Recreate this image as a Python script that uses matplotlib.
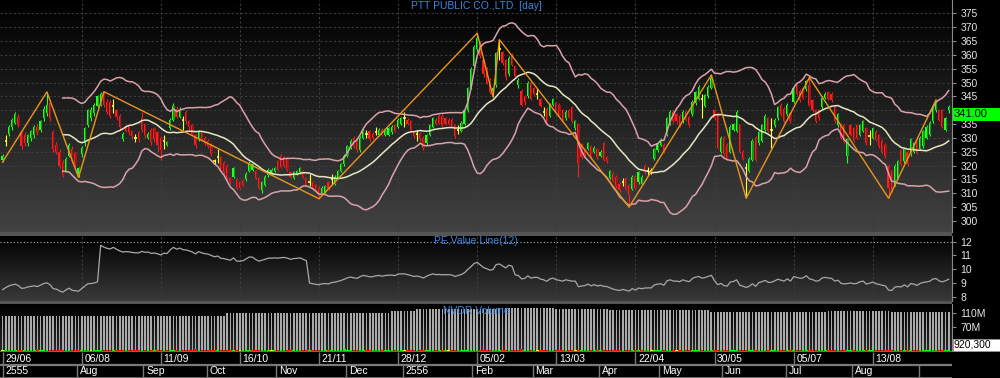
import numpy as np
import pandas as pd
import matplotlib
matplotlib.use("Agg")
import matplotlib.pyplot as plt
from matplotlib.colors import LinearSegmentedColormap
from matplotlib.patches import Rectangle

plt.rcParams['font.family'] = ['Liberation Sans', 'DejaVu Sans']

# daily OHLC, 29/06/2555 .. mid Sep 2556 (one value per trading day)
opens = [322, 329, 331.5, 334, 335.5, 337.5, 332, 331, 328, 330,
         331, 334, 333, 337, 339, 342.5, 332, 327.5, 325, 321,
         318, 323.5, 326, 324.5, 317, 324, 328, 334.5, 337, 339,
         341.5, 342, 346, 343, 343, 341.5, 340, 338, 329.5, 334,
         334.5, 332.5, 330, 332, 337, 335, 330, 333, 333.5, 332,
         330, 329, 327.5, 333.5, 336.5, 340.5, 337.5, 336.5, 339.5, 336,
         334.5, 331, 329.5, 332, 330, 329, 327.5, 321.5, 323, 323,
         321, 320, 315.5, 316, 315, 314, 314.5, 315, 318, 318.5,
         318, 315.5, 311, 313, 316.5, 317, 318, 321.5, 323.5, 323,
         322.5, 317.5, 315.5, 317, 317.5, 318, 315.5, 314, 314, 313,
         311.5, 310, 310.5, 314, 315, 313.5, 315.5, 318, 320.5, 323.5,
         326.5, 330, 329, 325.5, 330, 331.5, 332.5, 331.5, 332.3, 331,
         333, 331, 331, 332, 334.5, 334, 335, 337, 336.5, 336,
         332, 331.5, 331.5, 330, 328, 331, 334, 336.5, 338, 338,
         337, 336.5, 336.5, 334.5, 333, 332.5, 335, 340, 348, 356,
         362, 364, 358, 355, 351, 347, 349, 362, 361, 358,
         353, 360, 356, 349, 347, 345, 345, 350, 348, 346,
         344, 339.5, 340.5, 338, 342, 342.5, 342, 340, 337, 340,
         341, 333.5, 335, 327.5, 326, 326, 327, 325, 326, 323.5,
         328, 323, 315.5, 317, 316, 313.5, 314, 315.5, 313, 311.5,
         316, 314, 313.5, 320, 318, 318, 322.5, 325.5, 327.5, 327.5,
         331, 335, 339.5, 338.5, 338, 336, 339.5, 337.5, 338.5, 342.5,
         344, 344, 341.5, 345, 348, 340, 339, 325, 330, 327.5,
         325, 333, 332.5, 334.5, 325, 319, 318, 322, 330, 328,
         329, 333, 337, 333, 334.5, 337, 342, 340.5, 338.5, 339,
         343, 349, 347, 348, 347.5, 349, 343.5, 340, 340, 341,
         344.5, 346.5, 346, 341, 334.5, 335, 334.5, 323.5, 334.5, 333.5,
         334.5, 331, 332.5, 333.5, 330.5, 330, 332.3, 331, 329, 327.5,
         320, 318, 313, 315.5, 325.5, 321.5, 325, 324, 325, 329.5,
         326, 327, 330, 331, 336, 340, 340, 340, 333, 340]
highs = [324, 331, 334.5, 337, 339.5, 338.5, 333, 332, 331.5, 333,
         334.5, 335, 336.5, 341.5, 346.6, 344, 333, 328.5, 326, 322,
         323, 328, 327, 325, 319.5, 327, 334, 340.5, 341, 342.5,
         345.5, 346.5, 346.7, 344, 343.5, 344, 340.5, 338.5, 332, 334.5,
         335, 333, 331.5, 332.5, 339.5, 335.5, 332, 333.5, 334, 332.5,
         330.5, 331, 329, 337, 342.5, 341.5, 341, 338, 340, 336.5,
         335, 331.5, 333, 332.5, 330.5, 329.5, 328, 322.5, 326, 323.5,
         321.5, 320.5, 316, 319.5, 315.5, 314.5, 315, 317.5, 321.5, 321,
         318.5, 316, 314.5, 316.5, 319, 319, 319.5, 322, 324, 323.5,
         323, 318, 318, 318.5, 319.5, 318.5, 316, 317, 314.5, 313.5,
         312.5, 312.5, 313, 314.5, 317, 316.5, 318.5, 321, 324, 327.5,
         329.5, 330.5, 329.5, 330.5, 333.5, 333, 333, 332, 334, 333.5,
         333.5, 333.5, 334, 334.5, 335, 337, 337.5, 339.5, 337, 336.5,
         332.5, 333, 332, 330.5, 331.5, 335, 337.5, 337, 338.5, 338.5,
         337.5, 337, 337, 335, 334.5, 336, 340.5, 348.5, 355.5, 363.5,
         367.8, 365, 358.5, 355.5, 351.5, 348.5, 361, 365.5, 361.5, 358.5,
         359.5, 360.5, 356.5, 351.5, 347.5, 345.5, 350.5, 350.5, 348.5, 348,
         344.5, 341, 341, 342.5, 344.5, 343, 342.5, 340.5, 340, 340.5,
         341.5, 336.5, 335.5, 328, 326.5, 328.5, 327.5, 327, 326.5, 325.5,
         328.5, 323.5, 318.5, 317.5, 316.5, 314, 315.5, 316, 313.5, 316.5,
         316.5, 318, 316.5, 320.5, 319.5, 319, 326.5, 328.5, 330, 328,
         337.5, 340, 340, 339, 338.5, 340, 340, 338, 343.5, 347,
         349, 346, 346, 349, 352.7, 340.5, 339.5, 330.5, 330.5, 328,
         334.5, 335.5, 340, 335, 325.5, 321, 323, 329.5, 330.5, 332.5,
         335, 338.5, 337.5, 337, 337, 341.5, 342.5, 341, 342.5, 339.5,
         348.5, 349.5, 347.5, 348.5, 351, 351.8, 344, 340.5, 340.5, 345,
         346.5, 347, 346.5, 341.5, 339, 335.5, 335, 330, 335, 334,
         335, 335, 336.5, 334, 333, 334, 332.8, 331.5, 329.5, 328,
         320.5, 318.5, 320.5, 322, 326, 326.5, 325.5, 330, 328.5, 330,
         330.5, 333, 334.5, 336, 342, 343.7, 340.5, 340.5, 337.5, 342]
lows = [321.3, 327, 330.5, 333, 335, 334, 326, 327, 327, 329,
        330, 331, 332, 336, 338, 336, 325, 324, 319, 315.8,
        317.5, 323, 321, 319.5, 315.7, 323, 327, 334, 336, 338,
        341, 341.5, 341, 338.5, 337, 339, 336.5, 333, 329, 332,
        331, 329.5, 328.5, 328.5, 332, 330, 329.5, 327.5, 328.5, 325,
        322, 326, 327, 333, 336, 337, 337, 333, 335, 333,
        331, 326.5, 329, 329, 327.5, 326.5, 323.5, 320.5, 321, 317.5,
        317, 315, 313.5, 315.5, 311.5, 311.5, 312.5, 314.5, 317.5, 318,
        315, 311.5, 310, 312.5, 316, 316.5, 317.5, 318, 319, 319.5,
        318, 315.5, 315, 316.5, 317, 315.5, 312.5, 312.5, 311.5, 310,
        308, 309.5, 310, 311, 313, 313, 315, 317.5, 320, 323,
        326, 326.5, 325, 325, 329.5, 330, 329, 329.5, 331, 330.5,
        330.5, 330.5, 330.5, 331.5, 332, 333.5, 334.5, 334, 334.5, 332.5,
        330, 329, 329, 325.5, 327.5, 330.5, 333.5, 334.5, 335, 334,
        334.5, 334.5, 333.5, 330, 331.5, 332, 334.5, 339.5, 347.5, 355.5,
        361, 359, 352, 349.5, 346, 344.8, 348.5, 358, 356.5, 351,
        352.5, 356, 352, 348, 341.5, 342, 344.5, 343.5, 345.5, 344,
        341, 338, 335, 337.5, 341.5, 339, 337.5, 335.5, 336.5, 337,
        335.5, 333, 316, 322.5, 323.5, 325.5, 323, 324.5, 322.5, 323,
        321.5, 321, 315, 314, 312, 310.5, 312.5, 311, 305, 311,
        311.5, 313.5, 313, 317, 316.5, 317, 322, 325, 327, 324.5,
        330.5, 334.5, 335.5, 335.5, 334, 335.5, 336, 334, 338, 342,
        343.5, 337, 341, 344.5, 347.5, 336.5, 326, 324.5, 323.5, 322,
        324.5, 332.5, 332, 324.5, 322, 308.2, 317.5, 321.5, 321.5, 327.5,
        328.5, 332.5, 332, 326.5, 334, 336.5, 338, 335.5, 338, 335.5,
        342.5, 345.5, 343, 344, 347, 341.5, 339.5, 335.5, 336.5, 340.5,
        344, 343.5, 343, 335.5, 334, 329.5, 328, 321, 330.5, 328.5,
        329.5, 330.5, 332, 327.5, 327.5, 329.5, 328.8, 326.5, 324.5, 322.8,
        308.2, 310.5, 312.5, 315, 320, 321, 320, 323.5, 324.5, 324,
        325.5, 326.5, 329.5, 330.5, 335.5, 339.5, 336, 333.5, 332.5, 339]
closes = [323.5, 329, 334, 336.5, 338.5, 334.5, 327, 328, 331, 332.5,
          334, 332, 336, 340.5, 342, 337, 326, 325, 320, 316.5,
          322.5, 327.5, 321.5, 320.5, 319, 326.5, 333.5, 340, 340, 342,
          345, 346, 342, 339.5, 338, 341.5, 337.5, 334, 331.5, 332.5,
          332, 330.5, 330, 329.5, 333, 331, 331.5, 328.5, 329.5, 327.5,
          325.5, 329, 328.5, 336.5, 341.5, 337.5, 340, 336.5, 336, 334,
          331.5, 327.5, 332.5, 329.5, 328, 327, 324, 321.5, 323, 318,
          317.5, 315.5, 314, 319, 312, 312, 313, 317, 321, 320.5,
          315.5, 312, 314, 316, 318.5, 318.5, 319, 318.5, 319.5, 320,
          318.5, 316, 317.5, 318, 319, 316, 313, 314, 312, 310.5,
          309.5, 312, 312.5, 311.5, 315, 316, 318, 320.5, 323.5, 327,
          329, 327, 325.5, 330, 333, 331.5, 329.5, 330, 332.3, 333,
          331, 333, 333.5, 334, 332.5, 336.5, 337, 337, 335, 333,
          330.5, 331.5, 329.5, 326.5, 331, 334.5, 337, 335, 335.5, 334.5,
          335, 335, 334, 330.5, 333, 335.5, 340, 348, 355, 363,
          366, 359.5, 353, 350, 346.5, 348, 360.5, 362, 357, 352,
          359, 356.5, 352.5, 351, 342, 343, 350, 344, 346, 346,
          341.5, 339.5, 335.5, 342, 344, 339.5, 338, 336, 339.5, 337.5,
          336, 336, 321, 323, 324, 328, 323.5, 326.5, 323, 325,
          322, 321.5, 318, 314.5, 312.5, 311, 314, 311.5, 309.5, 316,
          312, 317.5, 316, 317.5, 318, 318, 326, 328, 329, 325,
          337, 339.5, 336, 336, 334.5, 339.5, 336.5, 334.5, 343, 346.7,
          348.5, 344, 345.5, 348.5, 351.5, 337, 326.5, 330, 324, 322.5,
          334, 335, 339.5, 325, 322.5, 319, 322.5, 329, 322, 332,
          334.5, 338, 332.5, 333, 336.5, 341, 338.5, 336, 342, 336,
          348, 346, 343.5, 344.5, 350.5, 342, 340, 336, 337, 344.5,
          346, 344, 343.5, 336, 338.5, 330, 328.5, 329.5, 331, 329,
          330, 334.5, 336, 328, 330.5, 333.5, 329.3, 327, 325, 323.3,
          312, 311, 320, 321.5, 320.5, 326, 320.5, 329.5, 328, 324.5,
          330, 332.5, 334, 335.5, 341.5, 343, 336.5, 334, 337, 341]

# zigzag turning points (bar index); the first is a low, then they alternate
zigzag_bars = [0, 14, 24, 32, 100, 150, 155, 157, 198, 224, 235, 255, 280, 295]

# EPS behind the PE line, valid from these bars on
eps_from_bar = [0, 31, 97, 162]
eps_values = [38.0, 29.5, 34.9, 36.8]

# NVDR volume (grey bars) as runs: number of bars, value in millions
nvdr_run_len = [71, 52, 8, 26, 18, 17, 32, 37, 20, 19]
nvdr_run_val = [102, 112, 116.6, 121.5, 124.4, 121.5, 118.7, 114.6, 117.5, 113.8]
# daily traded volume at the foot of the panel, millions, one digit per bar
daily_vol = ("34232432343523423243234232343242324323432343243234"
             "23432434234532432343243234232432434234323432432343"
             "43234323542343234232432434234324323432343234234324"
             "32434234323432543234232432343243234232432434324323"
             "42343243234234232432343243234234323424323432432342"
             "32432343243234234323432432343243234234323432432343")

date_bars = [0, 25, 50, 75, 100, 125, 150, 175, 200, 225, 250, 275]
date_labels = ['29/06', '06/08', '11/09', '16/10', '21/11', '28/12',
               '05/02', '13/03', '22/04', '30/05', '05/07', '13/08']
month_bars = [0, 24, 45, 65, 87, 109, 127, 149, 168, 189, 208, 228, 248, 269, 290]
month_labels = ['2555', 'Aug', 'Sep', 'Oct', 'Nov', 'Dec', '2556', 'Feb',
                'Mar', 'Apr', 'May', 'Jun', 'Jul', 'Aug', '']

price_ticks = [300, 305, 310, 315, 320, 325, 330, 335, 340, 345, 350, 355, 360, 365, 370, 375]
pe_ticks = [8, 9, 10, 11, 12]
vol_ticks = [30e6, 70e6, 110e6]
# 340 and 30M sit under the value boxes, so they carry no label
price_tick_labels = ['' if t == 340 else str(t) for t in price_ticks]
vol_tick_labels = ['', '70M', '110M']

# ------------------------------------------------------------------
o = np.array(opens, float)
h = np.array(highs, float)
l = np.array(lows, float)
c = np.array(closes, float)
x = np.arange(len(c))

s = pd.Series(c)
mid = s.rolling(20).mean()
sd = s.rolling(20).std(ddof=0)
upper = mid + 2 * sd
lower = mid - 2 * sd

eps = np.zeros(len(c))
for b, e in zip(eps_from_bar, eps_values):
    eps[b:] = e
pe = c / eps

gray_vol = np.repeat(nvdr_run_val, nvdr_run_len) * 1e6
dvol = np.array([int(d) for d in daily_vol]) * 1e6
prev = np.r_[np.nan, c[:-1]]

FW, FH = 1000, 378
fig = plt.figure(figsize=(10, 3.78), dpi=100, facecolor='black')
XL = (-0.82, 300.05)
AXW = 952 / FW


def px_axes(top, bottom):
    return fig.add_axes([0, 1 - bottom / FH, AXW, (bottom - top) / FH])


def gradient(ax, top_col, bot_col):
    cmap = LinearSegmentedColormap.from_list('bg', [top_col, bot_col])
    ax.imshow(np.linspace(0, 1, 256).reshape(-1, 1), extent=(0, 1, 0, 1),
              transform=ax.transAxes, aspect='auto', cmap=cmap, zorder=0)


# background bands between panels
bg = fig.add_axes([0, 0, 1, 1])
bg.set_xlim(0, FW)
bg.set_ylim(FH, 0)
bg.axis('off')
bg.add_patch(Rectangle((0, 232), 952, 4, color='#555555', lw=0))
bg.add_patch(Rectangle((0, 301), 952, 3, color='#555555', lw=0))
bg.add_patch(Rectangle((0, 351), 952, 27, color='#6a6a6a', lw=0))

grid_kw = dict(color='#3c3c3c', lw=0.8, ls=(0, (2, 2)), zorder=1)

# ---------------- price panel ----------------
ax = px_axes(0, 232)
gradient(ax, '#000000', '#424242')
for gy in price_ticks:
    ax.axhline(gy, **grid_kw)
for gx in date_bars[1:]:
    ax.axvline(gx, **grid_kw)

w = 0.72
up = c > o
dn = c < o
fl = c == o
for m, bright, dark in [(up, '#22ff22', '#109a10'), (dn, '#ff1c1c', '#a01414')]:
    ax.vlines(x[m], l[m], h[m], color=bright, lw=0.8, zorder=3)
    bot = np.minimum(o, c)[m]
    ht = np.abs(c - o)[m]
    ax.bar(x[m] - w / 4, ht, w / 2, bot, color=bright, lw=0, zorder=4)
    ax.bar(x[m] + w / 4, ht, w / 2, bot, color=dark, lw=0, zorder=4)
ax.vlines(x[fl], l[fl], h[fl], color='#ffff30', lw=0.8, zorder=3)
ax.hlines(c[fl], x[fl] - w / 2, x[fl] + w / 2, color='#ffff30', lw=1.2, zorder=4)

ax.plot(x, upper, color='#d9a2ab', lw=1.1, zorder=5)
ax.plot(x, lower, color='#d9a2ab', lw=1.1, zorder=5)
ax.plot(x, mid, color='#e8e6c2', lw=1.1, zorder=5)

zz_val = [l[b] if k % 2 == 0 else h[b] for k, b in enumerate(zigzag_bars)]
ax.plot(zigzag_bars, zz_val, color='#e8961c', lw=1.0, zorder=6)

ax.set_xlim(*XL)
ax.set_ylim(296.0, 379.8)
ax.set_yticks(price_ticks)
ax.set_yticklabels(price_tick_labels)
ax.text(0.5, 0.972, 'PTT PUBLIC CO.,LTD. [day]', transform=ax.transAxes,
        ha='center', va='center', color='#3d86e0', fontsize=7.5, zorder=8)

# ---------------- PE panel ----------------
ax2 = px_axes(236, 301)
gradient(ax2, '#000000', '#3a3a3a')
for gx in date_bars[1:]:
    ax2.axvline(gx, **grid_kw)
ax2.axhline(12, color='#b0b0b0', lw=0.8, ls=(0, (1, 2)), zorder=2)
ax2.plot(x, pe, color='#a8a8a8', lw=0.9, zorder=4)
ax2.set_xlim(*XL)
ax2.set_ylim(7.69, 12.4)
ax2.set_yticks(pe_ticks)
ax2.text(0.5, 0.92, 'PE,Value Line(12)', transform=ax2.transAxes,
         ha='center', va='center', color='#3d86e0', fontsize=7.5, zorder=8)

# ---------------- volume panel ----------------
ax3 = px_axes(304, 351)
gradient(ax3, '#000000', '#2a2a2a')
ax3.bar(x, gray_vol, 0.55, color='#aaaaaa', lw=0, zorder=3)
vcol = np.where(c > prev, '#00ff00', np.where(c < prev, '#ff1010', '#ffff00'))
ax3.bar(x, dvol, 0.8, color=vcol, lw=0, zorder=4)
ax3.set_xlim(*XL)
ax3.set_ylim(0, 137e6)
ax3.set_yticks(vol_ticks)
ax3.set_yticklabels(vol_tick_labels)
ax3.text(0.5, 0.86, 'NVDR Volume', transform=ax3.transAxes,
         ha='center', va='center', color='#3d86e0', fontsize=7.5, zorder=8)

for a in (ax, ax2, ax3):
    a.set_facecolor('black')
    a.yaxis.tick_right()
    a.tick_params(axis='y', colors='#8a8a8a', labelcolor='#e6e6e6',
                  labelsize=7.5, length=3, width=0.8, pad=3)
    a.tick_params(axis='x', bottom=False, labelbottom=False)
    for sp in ('top', 'left', 'bottom'):
        a.spines[sp].set_visible(False)
    a.spines['right'].set_color('#8a8a8a')

# ---------------- date rows ----------------
axd = px_axes(352, 377)
axd.set_facecolor('black')
axd.set_xlim(*XL)
axd.set_ylim(0, 2)
axd.axis('off')
axd.add_patch(Rectangle((0, 0), 1, 2, transform=axd.transAxes, color='black', zorder=0))
axd.axhline(1, color='#7a7a7a', lw=1.6, zorder=2)
for b, t in zip(date_bars, date_labels):
    axd.vlines(b, 1, 2, color='#7a7a7a', lw=1.0, zorder=2)
    axd.text(b + 0.8, 1.47, t, color='white', fontsize=7.5, va='center', ha='left', zorder=3)
for b, t in zip(month_bars, month_labels):
    xb = b - 0.5 if b > 0 else b
    axd.vlines(xb, 0, 1, color='#7a7a7a', lw=1.0, zorder=2)
    axd.text(xb + 0.9, 0.47, t, color='white', fontsize=7.5, va='center', ha='left', zorder=3)

# ---------------- value boxes on the right ----------------
fg = fig.add_axes([0, 0, 1, 1], zorder=20)
fg.set_xlim(0, FW)
fg.set_ylim(FH, 0)
fg.axis('off')
fig.canvas.draw()
y_last = FH - ax.transData.transform((0, c[-1]))[1]
fg.add_patch(Rectangle((953, y_last + 0.5), 47, 13, color='#00ff00', lw=0))
fg.text(954, y_last + 7, '%.2f' % c[-1], color='black', fontsize=8, va='center', ha='left')
fg.add_patch(Rectangle((953, 338.5), 47, 12.5, facecolor='white', edgecolor='#999999', lw=0.6))
fg.text(954, 344.8, '920,300', color='black', fontsize=7.5, va='center', ha='left')

fig.savefig('out.png', dpi=100, facecolor='black')
